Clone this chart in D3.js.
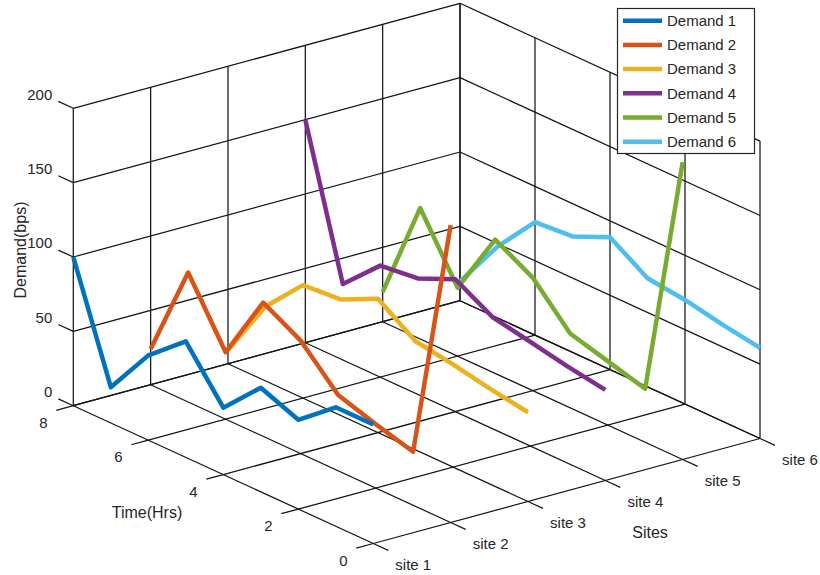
<!DOCTYPE html>
<html><head><meta charset="utf-8">
<script src="https://cdn.jsdelivr.net/npm/d3@7"></script>
<style>
body{margin:0;background:#fff}
svg{display:block}
text{font-family:"Liberation Sans",Arial,Helvetica,sans-serif;fill:#262626}
</style>
</head><body>
<svg id="c" width="820" height="575"></svg>
<script>
// ---- data ----
const siteLabels = ["site 1","site 2","site 3","site 4","site 5","site 6"];
const siteValues = [1,2,3,4,5,6];
const times = [0,1,2,3,4,5,6,7,8];
const timeTicks = [0,2,4,6,8];
const demandTicks = [0,50,100,150,200];
const seriesNames = ["Demand 1","Demand 2","Demand 3","Demand 4","Demand 5","Demand 6"];
const demand1 = [80, 80, 60, 70, 45, 78, 57, 24, 100];
const demand2 = [200, 36, 43, 51, 76, 90, 45, 87, 24];
const demand3 = [60, 64, 69, 73, 90, 78, 76, 50, 9];
const demand4 = [61, 65, 70, 75, 89, 78, 75, 51, 150];
const demand5 = [200, 36, 43, 50, 76, 90, 46, 88, 20];
const demand6 = [61, 65, 70, 73, 89, 78, 76, 48, 13];
const colors = ["#0072BD","#D95319","#EDB120","#7E2F8E","#77AC30","#4DBEEE"];

const allDemand = [demand1,demand2,demand3,demand4,demand5,demand6];

// ---- scales & projection ----
const svg = d3.select("#c");
const sx = d3.scaleLinear().domain([1,6]).range([0,1]);
const ty = d3.scaleLinear().domain([0,8]).range([0,1]);
const dz = d3.scaleLinear().domain([0,200]).range([0,1]);
const O=[373.3,543.5], VS=[386.7,-105], VT=[-300,-137.8], VZ=[0,-297.4];
function P(s,t,z){
  const a=sx(s),b=ty(t),c=dz(z);
  return [O[0]+a*VS[0]+b*VT[0]+c*VZ[0], O[1]+a*VS[1]+b*VT[1]+c*VZ[1]];
}
const gridG = svg.append("g").attr("stroke","#151515").attr("stroke-width",1.25).attr("fill","none");
function seg(a,b){
  const p=P(...a), q=P(...b);
  gridG.append("line").attr("x1",p[0]).attr("y1",p[1]).attr("x2",q[0]).attr("y2",q[1]);
}
const [s0,s1]=sx.domain(), [t0,t1]=ty.domain(), [z0,z1]=dz.domain();
// floor
siteValues.forEach(s=>seg([s,t0,z0],[s,t1,z0]));
timeTicks.forEach(t=>seg([s0,t,z0],[s1,t,z0]));
// back wall (time = max)
siteValues.forEach(s=>seg([s,t1,z0],[s,t1,z1]));
demandTicks.forEach(z=>seg([s0,t1,z],[s1,t1,z]));
// right wall (site = max)
timeTicks.forEach(t=>seg([s1,t,z0],[s1,t,z1]));
demandTicks.forEach(z=>seg([s1,t0,z],[s1,t1,z]));
// ticks
demandTicks.forEach(z=>seg([s0,t1,z],[s0,t1+0.4,z]));
timeTicks.forEach(t=>seg([s0,t,z0],[s0-0.22,t,z0]));
siteValues.forEach(s=>seg([s,t0,z0],[s,t0-0.4,z0]));

// tick labels
const lab = svg.append("g").attr("font-size",15);
demandTicks.forEach(z=>{const p=P(s0,t1,z);
  lab.append("text").attr("x",p[0]-21).attr("y",p[1]-14).attr("dy","0.35em").attr("text-anchor","end").text(z);});
timeTicks.forEach(t=>{const p=P(s0,t,z0);
  lab.append("text").attr("x",p[0]-30).attr("y",p[1]+17).attr("dy","0.35em").attr("text-anchor","middle").text(t);});
siteValues.forEach((s,i)=>{const p=P(s,t0,z0);
  lab.append("text").attr("x",p[0]+40).attr("y",p[1]+21).attr("dy","0.35em").attr("text-anchor","middle").text(siteLabels[i]);});

// axis titles
const tl = svg.append("g").attr("font-size",16).attr("text-anchor","middle");
tl.append("text").attr("transform","translate(20,250) rotate(-90)").attr("dy","0.35em").text("Demand(bps)");
tl.append("text").attr("x",147).attr("y",512).attr("dy","0.35em").text("Time(Hrs)");
tl.append("text").attr("x",650).attr("y",532).attr("dy","0.35em").text("Sites");

// data lines (back to front)
const line = d3.line();
const dataG = svg.append("g").attr("fill","none").attr("stroke-width",4.5).attr("stroke-linejoin","round");
for(let i=allDemand.length-1;i>=0;i--){
  const pts = times.map((t,j)=>P(siteValues[i],t,allDemand[i][j]));
  dataG.append("path").attr("d",line(pts)).attr("stroke",colors[i]);
}

// legend
const lg = svg.append("g");
lg.append("rect").attr("x",617.5).attr("y",8.5).attr("width",137).attr("height",145)
  .attr("fill","#fff").attr("stroke","#262626").attr("stroke-width",1.2);
seriesNames.forEach((n,i)=>{
  const y=20.7+i*24.2;
  lg.append("line").attr("x1",623).attr("x2",662).attr("y1",y).attr("y2",y)
    .attr("stroke",colors[i]).attr("stroke-width",4.5);
  lg.append("text").attr("x",667).attr("y",y).attr("dy","0.35em").attr("font-size",15).text(n);
});
</script>
</body></html>
